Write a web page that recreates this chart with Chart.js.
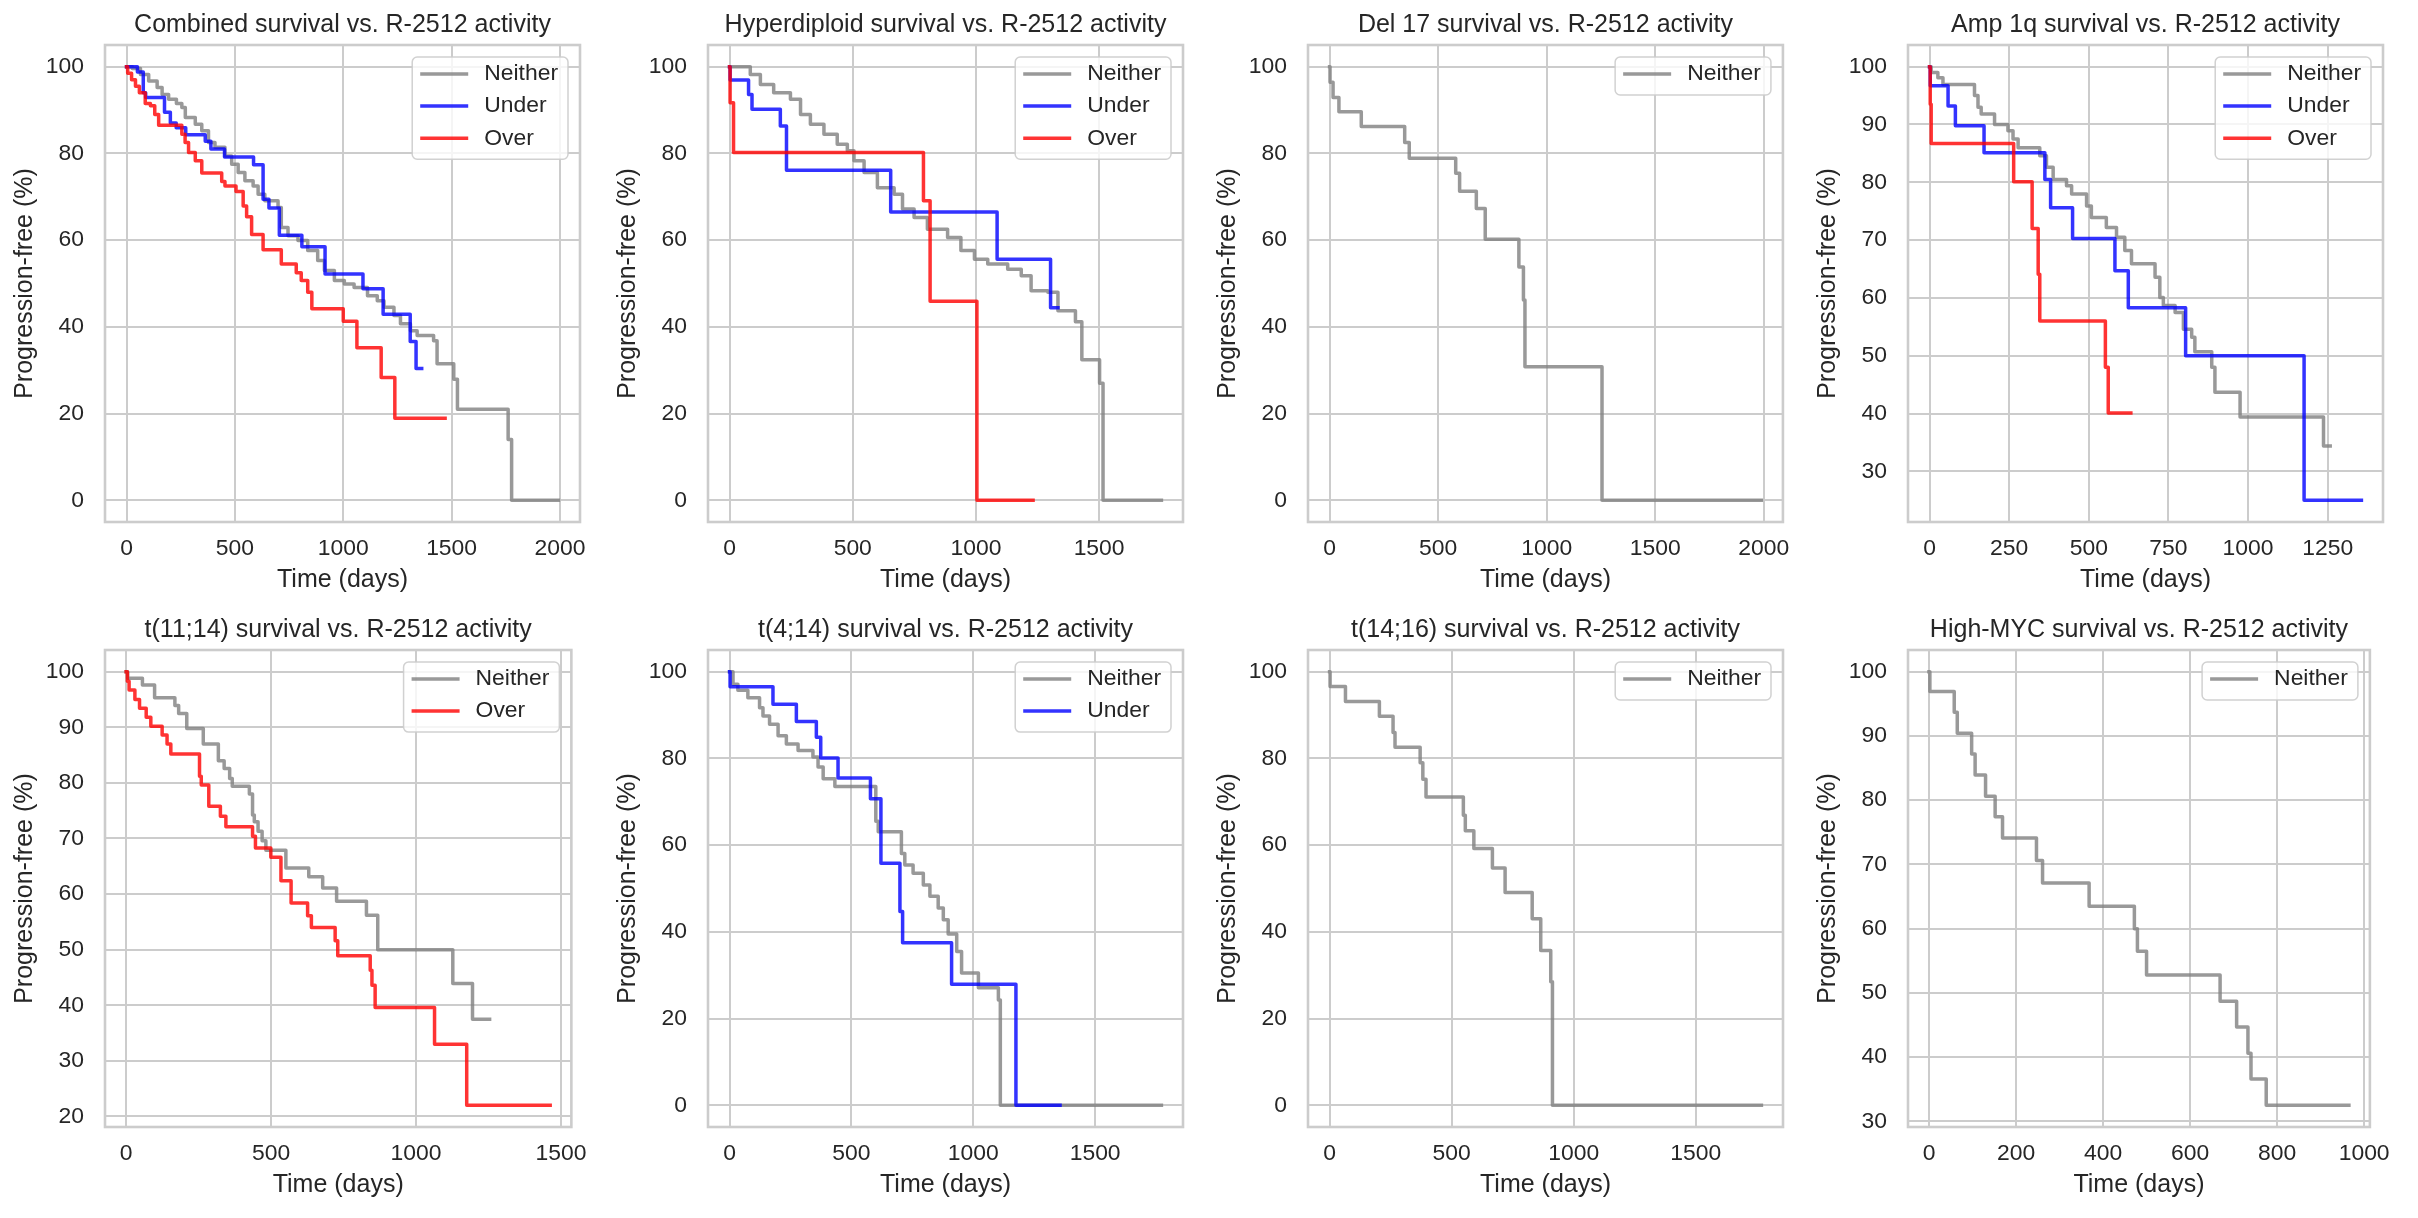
<!DOCTYPE html>
<html>
<head>
<meta charset="utf-8">
<script src="https://cdn.jsdelivr.net/npm/chart.js@4.4.1/dist/chart.umd.min.js"></script>
<style>
  html, body { margin: 0; padding: 0; background: #ffffff; }
  body { width: 2418px; height: 1218px; position: relative; overflow: hidden; }
  .cell { position: absolute; width: 600px; height: 609px; }
</style>
</head>
<body>
<div class="cell" style="left:0px;top:0px"><canvas id="c1" width="600" height="609"></canvas></div>
<div class="cell" style="left:603px;top:0px"><canvas id="c2" width="600" height="609"></canvas></div>
<div class="cell" style="left:1203px;top:0px"><canvas id="c3" width="600" height="609"></canvas></div>
<div class="cell" style="left:1803px;top:0px"><canvas id="c4" width="600" height="609"></canvas></div>
<div class="cell" style="left:0px;top:605px"><canvas id="c5" width="600" height="609"></canvas></div>
<div class="cell" style="left:603px;top:605px"><canvas id="c6" width="600" height="609"></canvas></div>
<div class="cell" style="left:1203px;top:605px"><canvas id="c7" width="600" height="609"></canvas></div>
<div class="cell" style="left:1803px;top:605px"><canvas id="c8" width="600" height="609"></canvas></div>
<script>
// --- data (days, % progression-free) ---
var combinedNeitherDays = [0,26,64,102,141,164,194,230,255,271,317,347,378,408,454,485,515,546,584,607,638,699,714,745,791,836,882,913,959,1005,1050,1112,1157,1188,1234,1264,1310,1341,1417,1433,1510,1527,1761,1777,1993];
var combinedNeitherPct  = [100,99.6,98.2,96.7,95.2,93.6,92.5,91.5,90.6,88.3,86.7,85.2,82.5,81.4,79.4,77.5,75.6,73.7,72.5,70.6,69.1,67.5,62.9,61,59.9,57.6,55.3,53,50.7,49.9,49.1,47.2,46,44.5,42.6,40.7,39.1,38,36.8,31.5,27.9,21,14,0,0];
var combinedUnderDays = [0,50,77,88,175,202,229,273,363,389,452,586,630,657,705,809,916,1091,1184,1309,1336,1362];
var combinedUnderPct  = [100,98.8,94,92.9,89.5,87,85.9,84.3,82.8,81,79.2,77.4,69.4,67.4,61.1,58.5,52.2,48.8,42.9,36.6,30.4,30.4];
var combinedOverDays = [0,5,23,41,59,86,110,130,148,255,270,286,317,347,439,454,505,538,554,577,630,714,783,806,836,855,1000,1063,1175,1238,1470];
var combinedOverPct  = [100,98.5,97,95.5,94,91.5,91,89,86.5,84.4,82.5,80.2,78.3,75.5,73.5,72.5,71.2,67.9,65.4,61.3,57.8,54.5,52.5,50.7,48,44.2,41.3,35.2,28.3,18.9,18.9];

var hyperNeitherDays = [0,84,125,179,247,288,328,383,437,478,505,546,600,668,702,749,803,885,939,994,1048,1129,1184,1224,1292,1333,1404,1430,1502,1516,1753];
var hyperNeitherPct  = [100,98.2,95.9,94,92.5,89,86.7,84.4,82.1,80.6,78.3,75.6,72.1,70.6,67.2,65.2,62.5,60.6,57.6,55.6,54.5,53.3,51.8,48.3,48,43.7,41.2,32.4,27,0,0];
var hyperUnderDays = [0,2,77,91,206,231,654,1086,1303,1333];
var hyperUnderPct  = [100,96.9,93.6,90.2,86.3,76.1,66.5,55.6,44.4,44.4];
var hyperOverDays = [0,2,16,787,814,1004,1232];
var hyperOverPct  = [100,91.7,80.2,69.1,45.9,0,0];

var del17NeitherDays = [0,2,16,43,146,346,367,581,599,676,717,872,893,900,1255,1989];
var del17NeitherPct  = [100,96.4,92.9,89.6,86.2,82.5,78.9,75.4,71.3,67.3,60.2,53.8,46.2,30.8,0,0];

var amp1qNeitherDays = [0,5,26,42,141,152,162,204,246,262,278,346,367,388,430,446,493,508,555,587,613,634,708,723,734,771,797,823,833,886,896,975,1237,1258];
var amp1qNeitherPct  = [100,99,98.1,96.9,95,93,91.8,90,88.9,87.5,86,84.6,82.6,80.5,79.4,78,75.9,73.9,72.2,70.5,68.2,65.9,63.6,60.1,58.7,57.5,54.6,53.2,50.7,48,43.7,39.4,34.4,34.4];
var amp1qUnderDays = [0,2,58,81,171,362,380,449,582,624,804,1176,1356];
var amp1qUnderPct  = [100,96.7,93.2,89.8,85.1,80.5,75.6,70.3,64.7,58.3,50,25,25];
var amp1qOverDays = [0,2,5,264,322,341,346,552,561,632];
var amp1qOverPct  = [100,93.5,86.7,80.1,72,64.1,56,48,40.1,40.1];

var t1114NeitherDays = [0,5,56,98,168,181,209,266,318,338,357,366,425,436,442,455,469,482,551,630,678,726,829,868,1127,1195,1254];
var t1114NeitherPct  = [100,98.8,97.6,95.3,93.9,92.5,89.8,87,84,82.6,80.8,79.4,78,74.2,73,71.3,69.6,67.9,64.7,63.1,61.1,58.7,56.2,50,43.9,37.5,37.5];
var t1114OverDays = [0,4,10,30,46,69,85,124,141,154,253,259,285,325,344,436,446,499,534,569,626,639,721,730,842,848,859,1064,1175,1463];
var t1114OverPct  = [100,98.3,96.7,95,93.4,91.8,90.2,88.6,87,85.2,81.2,79.6,75.8,74,72.1,70.4,68.3,66.6,62.4,58.4,56.1,54,51.6,48.9,46.3,43.6,39.6,33,22,22];

var t414NeitherDays = [0,14,34,75,123,137,164,199,233,281,342,363,384,432,600,610,705,719,753,795,822,856,877,897,932,952,1021,1103,1111,1772];
var t414NeitherPct  = [100,97.1,95.7,94,91.7,89.8,87.9,85.2,83.3,81.8,80.3,78,75.3,73.5,65.5,63.1,58.1,55.4,53.5,50.8,48.2,45.5,42.8,39.5,35.5,30.5,27.1,24.3,0,0];
var t414UnderDays = [0,2,178,274,356,374,445,578,621,699,710,911,1175,1356];
var t414UnderPct  = [100,96.5,92.5,88.5,84.9,80.1,75.5,70.7,55.8,44.7,37.5,27.9,0,0];

var t1416NeitherDays = [0,2,65,204,260,268,371,382,395,548,556,591,667,719,830,865,906,913,1769];
var t1416NeitherPct  = [100,96.6,93.1,89.7,86,82.6,79,75.2,71.1,66.9,63.3,59.2,54.7,49.1,43,35.7,28.5,0,0];

var mycNeitherDays = [0,2,58,65,98,106,130,152,169,247,261,368,472,479,500,669,707,733,740,775,965];
var mycNeitherPct  = [100,96.9,93.7,90.4,87.2,83.9,80.6,77.4,74.1,70.6,67.1,63.5,60,56.5,52.8,48.7,44.7,40.6,36.6,32.5,32.5];

// tick labels
var xTicks2000 = [0,500,1000,1500,2000];
var xTicks1500 = [0,500,1000,1500];
var xTicks1250 = [0,250,500,750,1000,1250];
var xTicks1000 = [0,200,400,600,800,1000];
var yTicksFull = [0,20,40,60,80,100];
var yTicks20 = [20,30,40,50,60,70,80,90,100];
var yTicks30 = [30,40,50,60,70,80,90,100];

var groupNames = ["Neither", "Under", "Over"];
var groupColors = ["rgba(128,128,128,0.8)", "rgba(0,0,255,0.8)", "rgba(255,0,0,0.8)"];

var panels = [
  {id: "c1", title: "Combined survival vs. R-2512 activity", xt: xTicks2000, yt: yTicksFull,
   curves: [[0, combinedNeitherDays, combinedNeitherPct], [1, combinedUnderDays, combinedUnderPct], [2, combinedOverDays, combinedOverPct]]},
  {id: "c2", title: "Hyperdiploid survival vs. R-2512 activity", xt: xTicks1500, yt: yTicksFull,
   curves: [[0, hyperNeitherDays, hyperNeitherPct], [1, hyperUnderDays, hyperUnderPct], [2, hyperOverDays, hyperOverPct]]},
  {id: "c3", title: "Del 17 survival vs. R-2512 activity", xt: xTicks2000, yt: yTicksFull,
   curves: [[0, del17NeitherDays, del17NeitherPct]]},
  {id: "c4", title: "Amp 1q survival vs. R-2512 activity", xt: xTicks1250, yt: yTicks30,
   curves: [[0, amp1qNeitherDays, amp1qNeitherPct], [1, amp1qUnderDays, amp1qUnderPct], [2, amp1qOverDays, amp1qOverPct]]},
  {id: "c5", title: "t(11;14) survival vs. R-2512 activity", xt: xTicks1500, yt: yTicks20,
   curves: [[0, t1114NeitherDays, t1114NeitherPct], [2, t1114OverDays, t1114OverPct]]},
  {id: "c6", title: "t(4;14) survival vs. R-2512 activity", xt: xTicks1500, yt: yTicksFull,
   curves: [[0, t414NeitherDays, t414NeitherPct], [1, t414UnderDays, t414UnderPct]]},
  {id: "c7", title: "t(14;16) survival vs. R-2512 activity", xt: xTicks1500, yt: yTicksFull,
   curves: [[0, t1416NeitherDays, t1416NeitherPct]]},
  {id: "c8", title: "High-MYC survival vs. R-2512 activity", xt: xTicks1000, yt: yTicks30,
   curves: [[0, mycNeitherDays, mycNeitherPct]]}
];

var FONT = '"Liberation Sans", Arial, sans-serif';
var TEXT = "#262626";
var GRID = "#cccccc";
var LINE_W = 3.5;
Chart.defaults.font.family = FONT;
Chart.defaults.color = TEXT;

// axes frame (all four spines)
var framePlugin = {
  id: "frame",
  afterDatasetsDraw: function(chart) {
    var a = chart.chartArea, ctx = chart.ctx;
    ctx.save();
    ctx.strokeStyle = GRID;
    ctx.lineWidth = 2.6;
    ctx.strokeRect(a.left, a.top, a.right - a.left, a.bottom - a.top);
    ctx.restore();
  }
};

// boxed legend in the upper right corner of the plot
var boxLegend = {
  id: "boxLegend",
  afterDraw: function(chart) {
    var a = chart.chartArea, ctx = chart.ctx;
    var sets = chart.data.datasets;
    ctx.save();
    ctx.font = "22.9px " + FONT;
    var tw = 0;
    sets.forEach(function(d) { tw = Math.max(tw, ctx.measureText(d.label).width); });
    var w = 72 + tw + 10;
    var h = 38 + 32.1 * (sets.length - 1);
    var x0 = a.right - 12 - w, y0 = a.top + 12;
    ctx.beginPath();
    if (ctx.roundRect) ctx.roundRect(x0, y0, w, h, 5); else ctx.rect(x0, y0, w, h);
    ctx.fillStyle = "rgba(255,255,255,0.8)";
    ctx.fill();
    ctx.lineWidth = 1.5;
    ctx.strokeStyle = "rgba(204,204,204,0.9)";
    ctx.stroke();
    sets.forEach(function(d, i) {
      var y = y0 + 17 + 32.1 * i;
      ctx.beginPath();
      ctx.moveTo(x0 + 8, y);
      ctx.lineTo(x0 + 56, y);
      ctx.strokeStyle = d.borderColor;
      ctx.lineWidth = LINE_W;
      ctx.lineCap = "butt";
      ctx.stroke();
      ctx.fillStyle = TEXT;
      ctx.textAlign = "left";
      ctx.textBaseline = "middle";
      ctx.fillText(d.label, x0 + 72, y);
    });
    ctx.restore();
  }
};

function makeChart(p) {
  var maxT = 0, minS = 100, maxS = 0;
  var datasets = p.curves.map(function(c) {
    var g = c[0], days = c[1], pct = c[2];
    maxT = Math.max(maxT, days[days.length - 1]);
    pct.forEach(function(v) { minS = Math.min(minS, v); maxS = Math.max(maxS, v); });
    return {
      label: groupNames[g],
      data: days.map(function(t, i) { return {x: t, y: pct[i]}; }),
      borderColor: groupColors[g],
      borderWidth: LINE_W,
      borderCapStyle: "square",
      borderJoinStyle: "round",
      pointRadius: 0,
      stepped: true,
      fill: false,
      order: 3 - g
    };
  });
  var xPad = maxT * 0.05, yPad = (maxS - minS) * 0.05;

  new Chart(document.getElementById(p.id), {
    type: "line",
    data: {datasets: datasets},
    options: {
      responsive: false,
      animation: false,
      devicePixelRatio: 1,
      layout: {padding: {left: 0, right: 20, top: 0, bottom: 0}},
      plugins: {
        legend: {display: false},
        tooltip: {enabled: false},
        title: {
          display: true, text: p.title, fullSize: false, color: TEXT,
          font: {size: 25, weight: "normal"}, padding: {top: 10, bottom: 5}
        }
      },
      scales: {
        x: {
          type: "linear", min: -xPad, max: maxT + xPad,
          afterBuildTicks: function(s) { s.ticks = p.xt.map(function(v) { return {value: v}; }); },
          afterFit: function(s) { s.height = 87; },
          grid: {color: GRID, lineWidth: 2, drawTicks: false},
          border: {display: false},
          ticks: {color: TEXT, font: {size: 22.9}, padding: 13, maxRotation: 0, autoSkip: false,
                  callback: function(v) { return String(v); }},
          title: {display: true, text: "Time (days)", color: TEXT, font: {size: 25}, padding: {top: 0, bottom: 14}}
        },
        y: {
          type: "linear", min: minS - yPad, max: maxS + yPad,
          afterBuildTicks: function(s) { s.ticks = p.yt.map(function(v) { return {value: v}; }); },
          afterFit: function(s) { s.width = 105; },
          grid: {color: GRID, lineWidth: 2, drawTicks: false},
          border: {display: false},
          ticks: {color: TEXT, font: {size: 22.9}, padding: 21, autoSkip: false,
                  callback: function(v) { return String(v); }},
          title: {display: true, text: "Progression-free (%)", color: TEXT, font: {size: 25}, padding: {top: 10, bottom: 0}}
        }
      }
    },
    plugins: [framePlugin, boxLegend]
  });
}

panels.forEach(makeChart);
</script>
</body>
</html>
